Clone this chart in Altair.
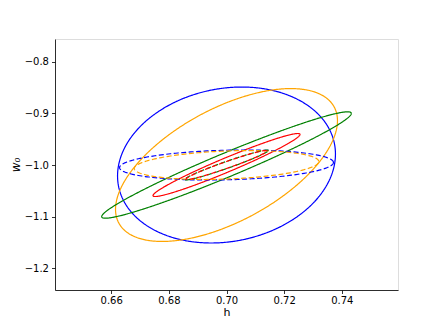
import numpy as np
import pandas as pd
import altair as alt

# Ellipse parameters (center, sigma_x, sigma_y, correlation)
names = ["blue_solid", "orange_solid", "green_solid", "red_solid",
         "blue_dashed", "orange_dashed", "green_dashed", "red_dashed"]
colors = ["blue", "orange", "green", "red", "blue", "orange", "green", "red"]
styles = ["solid", "solid", "solid", "solid", "dashed", "dashed", "dashed", "dashed"]
center_x = [0.70, 0.70, 0.70, 0.70, 0.70, 0.70, 0.70, 0.70]
center_y = [-1.0, -1.0, -1.0, -1.0, -1.0, -1.0, -1.0, -1.0]
sigma_x = [0.0378, 0.0385, 0.0433, 0.0255, 0.0371, 0.0320, 0.0145, 0.0140]
sigma_y = [0.151, 0.148, 0.103, 0.061, 0.029, 0.028, 0.029, 0.028]
rho = [0.14, 0.58, 0.97, 0.97, 0.17, 0.24, 0.97, 0.97]

x_ticks = [0.66, 0.68, 0.70, 0.72, 0.74]
y_ticks = [-1.2, -1.1, -1.0, -0.9, -0.8]

rows = []
t = np.linspace(0, 2 * np.pi, 241)
for i, n in enumerate(names):
    xs = center_x[i] + sigma_x[i] * np.cos(t)
    ys = center_y[i] + sigma_y[i] * (rho[i] * np.cos(t) + np.sqrt(1 - rho[i] ** 2) * np.sin(t))
    for k in range(len(t)):
        rows.append({"name": n, "color": colors[i], "style": styles[i],
                     "order": k, "x": xs[k], "y": ys[k]})
df = pd.DataFrame(rows)

font = "DejaVu Sans"
chart = alt.Chart(df).mark_line(strokeWidth=1.2, clip=True).encode(
    x=alt.X("x:Q", scale=alt.Scale(domain=[0.6405, 0.7595], nice=False, zero=False),
            axis=alt.Axis(title="h", values=x_ticks, format=".2f", grid=False,
                          tickSize=3.5, labelPadding=2, titlePadding=1,
                          labelFontSize=10, titleFontSize=11, labelFont=font, titleFont=font,
                          labelColor="black", titleColor="black", tickColor="black",
                          domainColor="black", domainWidth=0.8, tickWidth=0.8,
                          titleFontWeight="normal")),
    y=alt.Y("y:Q", scale=alt.Scale(domain=[-1.242, -0.756], nice=False, zero=False),
            axis=alt.Axis(title="w₀", values=y_ticks, format=".1f", grid=False,
                          labelExpr="replace(format(datum.value, '.1f'), '-', '−')",
                          tickSize=3.5, labelPadding=3, titlePadding=2,
                          labelFontSize=10, titleFontSize=12, labelFont=font, titleFont=font,
                          labelColor="black", titleColor="black", tickColor="black",
                          domainColor="black", domainWidth=0.8, tickWidth=0.8,
                          titleFontWeight="normal", titleFontStyle="italic")),
    color=alt.Color("color:N", scale=alt.Scale(domain=["blue", "orange", "green", "red"],
                                               range=["#0000ff", "#ffa500", "#008000", "#ff0000"]),
                    legend=None),
    strokeDash=alt.StrokeDash("style:N", scale=alt.Scale(domain=["solid", "dashed"],
                                                         range=[[1, 0], [5, 2.5]]),
                              legend=None),
    detail="name:N",
    order="order:Q",
).properties(
    width=343, height=251,
    padding={"left": 47, "top": 31, "right": 37, "bottom": 30},
    autosize=alt.AutoSizeParams(type="none"),
).configure_view(stroke="black", strokeWidth=0.8).configure(background="white")

chart.save("out.html", embed_options={"renderer": "svg", "actions": False})
